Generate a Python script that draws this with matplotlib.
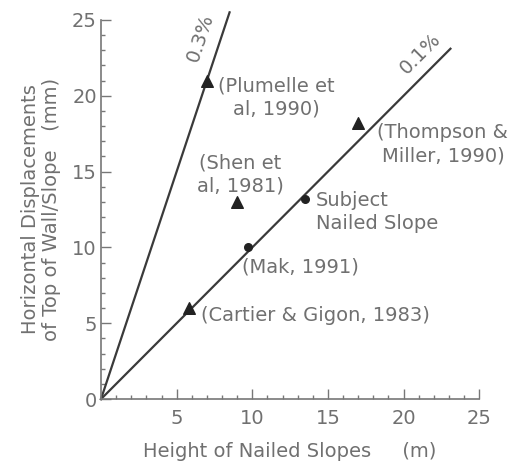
import numpy as np
import matplotlib
matplotlib.use("Agg")
import matplotlib.pyplot as plt
from matplotlib.ticker import MultipleLocator

# data
tri_x = [7.0, 9.0, 17.0, 5.8]
tri_y = [21.0, 13.0, 18.2, 6.0]
dot_x = [9.7, 13.5]
dot_y = [10.0, 13.2]

# reference lines: displacement = ratio * height (mm per m)
line_ratio = [3.0, 1.0]
line_xmax = [8.5, 23.1]
line_names = ["0.3%", "0.1%"]

labels = [
    "(Plumelle et\nal, 1990)",
    "(Shen et\nal, 1981)",
    "(Thompson &\nMiller, 1990)",
    "Subject\nNailed Slope",
    "(Mak, 1991)",
    "(Cartier & Gigon, 1983)",
]
label_x = [11.6, 9.2, 22.6, 14.2, 9.35, 6.6]
label_y = [19.9, 14.8, 16.8, 12.35, 8.7, 5.5]
label_ha = ["center", "center", "center", "left", "left", "left"]

txt = "#707070"
ink = "#3a3a3a"
fs = 14

fig = plt.figure(figsize=(5.26, 4.63), dpi=100)
ax = fig.add_axes([0.192, 0.138, 0.719, 0.819])

for r, xm in zip(line_ratio, line_xmax):
    xs = np.array([0, xm])
    ax.plot(xs, r * xs, color=ink, lw=1.6, clip_on=False)

ax.scatter(tri_x, tri_y, marker="^", s=70, color="#222222", zorder=3, clip_on=False)
ax.scatter(dot_x, dot_y, marker="o", s=30, color="#222222", zorder=3)

for t, x, y, ha in zip(labels, label_x, label_y, label_ha):
    ax.text(x, y, t, ha=ha, va="center", multialignment=ha,
            fontsize=fs, color=txt, linespacing=1.3)

ax.text(6.55, 23.8, line_names[0], rotation=71.5, ha="center", va="center",
        fontsize=fs, color=txt)
ax.text(21.1, 22.8, line_names[1], rotation=45, ha="center", va="center",
        fontsize=fs, color=txt)

ax.set_xlim(0, 25)
ax.set_ylim(0, 25)
ax.spines["top"].set_visible(False)
ax.spines["right"].set_visible(False)
for s in ["left", "bottom"]:
    ax.spines[s].set_color("#777777")
    ax.spines[s].set_linewidth(1.2)

ax.xaxis.set_major_locator(MultipleLocator(5))
ax.xaxis.set_minor_locator(MultipleLocator(1))
ax.yaxis.set_major_locator(MultipleLocator(5))
ax.yaxis.set_minor_locator(MultipleLocator(1))
ax.set_xticks([5, 10, 15, 20, 25])
ax.tick_params(which="major", direction="in", length=7, width=1, color="#777777",
               labelsize=fs, labelcolor=txt)
ax.tick_params(which="minor", direction="in", length=3, width=1, color="#777777")
ax.tick_params(axis="x", which="major", pad=7)
ax.tick_params(axis="y", which="major", pad=3)

ax.set_xlabel("Height of Nailed Slopes     (m)", fontsize=fs, color=txt, labelpad=10)
ax.set_ylabel("Horizontal Displacements\nof Top of Wall/Slope   (mm)", fontsize=fs,
              color=txt, labelpad=8, linespacing=1.15)

fig.savefig("out.png", dpi=100, facecolor="white")
